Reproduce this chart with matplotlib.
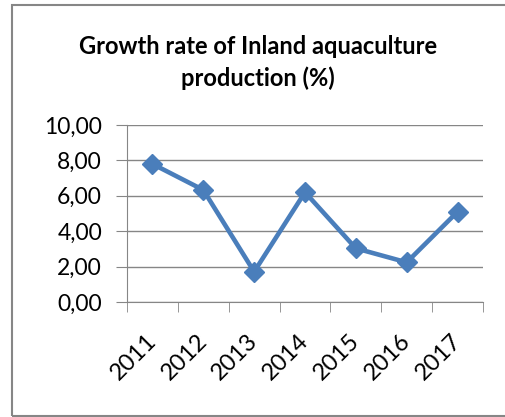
import numpy as np
import matplotlib.pyplot as plt
import matplotlib.transforms as mtransforms
from matplotlib.patches import Rectangle

years = ['2011', '2012', '2013', '2014', '2015', '2016', '2017']
growth = [7.80, 6.33, 1.71, 6.20, 3.03, 2.24, 5.10]
yticks = [0, 2, 4, 6, 8, 10]

plt.rcParams['font.family'] = ['Lato', 'DejaVu Sans']

fig = plt.figure(figsize=(5.05, 4.17), dpi=100)
ax = fig.add_axes([127 / 505, 1 - 302 / 417, 356 / 505, 177 / 417])

x = np.arange(len(years))
ax.plot(x, growth, color='#4a7ebb', lw=3.3, marker='D', ms=10, zorder=3)

ax.set_xlim(-0.5, len(years) - 0.5)
ax.set_ylim(0, 10)
ax.set_yticks(yticks)
ax.set_yticklabels([f'{v:.2f}'.replace('.', ',') for v in yticks], fontsize=16.5)
ax.set_xticks(x)
ax.set_xticklabels(years, fontsize=17, rotation=45, ha='right', va='top',
                   rotation_mode='anchor')
ax.set_xticks(np.arange(-0.5, len(years)), minor=True)
ax.tick_params(axis='x', which='major', length=0, pad=20)
ax.tick_params(axis='x', which='minor', length=7, color='#868686')
ax.tick_params(axis='y', length=8, color='#868686', pad=10)
ax.grid(axis='y', color='#868686', lw=1)
ax.set_axisbelow(True)
for s in ['top', 'right']:
    ax.spines[s].set_visible(False)
for s in ['left', 'bottom']:
    ax.spines[s].set_color('#868686')

# nudge the slanted year labels a little to the left
shift = mtransforms.ScaledTranslation(-7 / 100, 0, fig.dpi_scale_trans)
for lab in ax.get_xticklabels():
    lab.set_transform(lab.get_transform() + shift)

fig.text(258 / 505, 1 - 47 / 417, 'Growth rate of Inland aquaculture', ha='center',
         va='center', fontsize=17, fontweight='bold')
fig.text(258 / 505, 1 - 78 / 417, 'production (%)', ha='center', va='center',
         fontsize=17, fontweight='bold')

fig.patches.append(Rectangle((12 / 505, 1 / 417), 1.2, 1 - 6 / 417,
                             transform=fig.transFigure, fill=False,
                             edgecolor='#868686', lw=1.5))

fig.savefig('out.png', dpi=100)
